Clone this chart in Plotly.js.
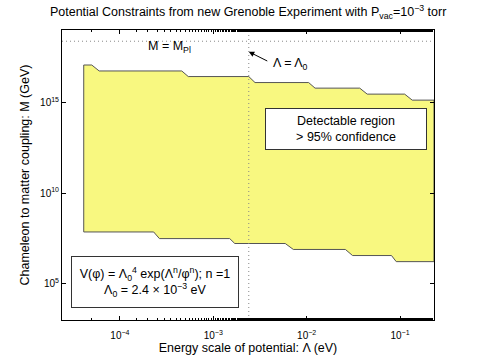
<!DOCTYPE html>
<html><head><meta charset="utf-8">
<script src="https://cdn.plot.ly/plotly-3.0.1.min.js"></script>
<style>html,body{margin:0;padding:0;background:#fff}#c{width:480px;height:361px}</style>
</head><body><div id="c"></div>
<script>
// Upper boundary of detectable region (Lambda in eV, M in GeV), left to right
const upperLambda = [4.1e-5, 5.0e-5, 6.0e-5, 4.6e-4, 5.4e-4, 2.4e-3, 2.8e-3, 1.05e-2, 1.23e-2, 3.7e-2, 4.45e-2, 0.112, 0.135, 0.231];
const upperM      = [1.17e17, 1.17e17, 5.5e16, 5.5e16, 2.7e16, 2.7e16, 1.26e16, 1.26e16, 6.2e15, 6.2e15, 2.9e15, 2.9e15, 1.35e15, 1.35e15];
// Lower boundary, left to right
const lowerLambda = [4.1e-5, 2.3e-4, 2.65e-4, 1.5e-3, 1.7e-3, 5.9e-3, 7.2e-3, 2.6e-2, 3.1e-2, 8.1e-2, 9.1e-2, 0.231];
const lowerM      = [7.2e7, 7.2e7, 3.1e7, 3.1e7, 1.66e7, 1.66e7, 7.8e6, 7.8e6, 3.6e6, 3.6e6, 1.66e6, 1.66e6];
const M_Pl = 2.4e18;      // GeV
const Lambda0 = 2.4e-3;   // eV
const xRange = [2.4e-5, 0.231];
const yRange = [1e3, 1e19];
const xTickVals = [1e-4, 1e-3, 1e-2, 1e-1];
const xTickText = ['10<sup>\u22124</sup>', '10<sup>\u22123</sup>', '10<sup>\u22122</sup>', '10<sup>\u22121</sup>'];
const yTickVals = [1e5, 1e10, 1e15];
const yTickText = ['10<sup>5</sup>', '10<sup>10</sup>', '10<sup>15</sup>'];

const polyX = upperLambda.concat(lowerLambda.slice().reverse(), [upperLambda[0]]);
const polyY = upperM.concat(lowerM.slice().reverse(), [upperM[0]]);

const traces = [
  {x: polyX, y: polyY, mode: 'lines', fill: 'toself', fillcolor: '#f8f880',
   line: {color: '#555555', width: 1}, hoverinfo: 'skip'},
  {x: xRange, y: [M_Pl, M_Pl], mode: 'lines', line: {color: '#888888', width: 1, dash: '1px,3px'}},
  {x: [Lambda0, Lambda0], y: yRange, mode: 'lines', line: {color: '#888888', width: 1, dash: '1px,3px'}},
  {x: xRange, y: yRange, xaxis: 'x2', mode: 'markers', marker: {opacity: 0}, hoverinfo: 'skip'}
];

const fnt = {family: 'Liberation Sans, Arial, sans-serif', color: '#000'};
const axCommon = {type: 'log', ticks: 'inside', ticklen: 4, tickcolor: '#000', showline: true,
  linecolor: '#000', linewidth: 1, showgrid: false, zeroline: false};
const layout = {
  width: 480, height: 361,
  margin: {l: 62, r: 46, t: 30, b: 41},
  paper_bgcolor: '#fff', plot_bgcolor: '#fff',
  showlegend: false,
  font: Object.assign({size: 10}, fnt),
  title: {text: 'Potential Constraints from new Grenoble Experiment with P<sub>vac</sub>=10<sup>\u22123</sup> torr',
          font: Object.assign({size: 12.5}, fnt), x: 0.517, xanchor: 'center', y: 0.967, yanchor: 'middle'},
  xaxis: Object.assign({}, axCommon, {range: [Math.log10(xRange[0]), Math.log10(xRange[1])],
          tickvals: xTickVals, ticktext: xTickText, mirror: true, ticklabelstandoff: 6,
          minor: {ticks: 'inside', ticklen: 2, tickcolor: '#000', showgrid: false},
          tickfont: Object.assign({size: 10}, fnt),
          title: {text: 'Energy scale of potential: \u039b (eV)', font: Object.assign({size: 12.5}, fnt), standoff: 3}}),
  xaxis2: Object.assign({}, axCommon, {overlaying: 'x', side: 'top', range: [Math.log10(xRange[0]), Math.log10(xRange[1])],
          tickvals: xTickVals, showticklabels: false,
          minor: {ticks: 'inside', ticklen: 2, tickcolor: '#000', showgrid: false}}),
  yaxis: Object.assign({}, axCommon, {range: [Math.log10(yRange[0]), Math.log10(yRange[1])],
          tickvals: yTickVals, ticktext: yTickText, mirror: 'ticks',
          tickfont: Object.assign({size: 10}, fnt),
          title: {text: 'Chameleon to matter coupling: M (GeV)', font: Object.assign({size: 12.5}, fnt), standoff: 7}}),
  annotations: [
    {xref: 'paper', yref: 'paper', x: 0.29, y: 0.942, xanchor: 'center', yanchor: 'middle',
     text: 'M = M<sub>Pl</sub>', showarrow: false, font: Object.assign({size: 12.5}, fnt)},
    {xref: 'paper', yref: 'paper', x: 0.613, y: 0.884, xanchor: 'center', yanchor: 'middle',
     text: '\u039b = \u039b<sub>0</sub>', showarrow: false, font: Object.assign({size: 12.5}, fnt)},
    {x: Math.log10(Lambda0), y: 17.8, xref: 'x', yref: 'y', text: '', showarrow: true,
     ax: 20, ay: 10, arrowhead: 2, arrowsize: 1.1, arrowwidth: 1, arrowcolor: '#000'},
    {xref: 'paper', yref: 'paper', x: 0.763, y: 0.659, xanchor: 'center', yanchor: 'middle',
     text: 'Detectable region<br>> 95% confidence',
     showarrow: false, bgcolor: '#fff', bordercolor: '#333', borderwidth: 1, borderpad: 2,
     width: 156, height: 36, font: Object.assign({size: 12.5}, fnt)},
    {xref: 'paper', yref: 'paper', x: 0.2487, y: 0.131, xanchor: 'center', yanchor: 'middle',
     text: 'V(\u03c6) = \u039b<sub>0</sub><sup>4</sup> exp(\u039b<sup>n</sup>/\u03c6<sup>n</sup>); n =1<br>\u039b<sub>0</sub> = 2.4 \u00d7 10<sup>\u22123</sup> eV',
     showarrow: false, bgcolor: '#fff', bordercolor: '#333', borderwidth: 1, borderpad: 2,
     width: 162, height: 46, font: Object.assign({size: 12.5}, fnt)}
  ]
};
Plotly.newPlot('c', traces, layout, {displayModeBar: false, staticPlot: true});
</script></body></html>
